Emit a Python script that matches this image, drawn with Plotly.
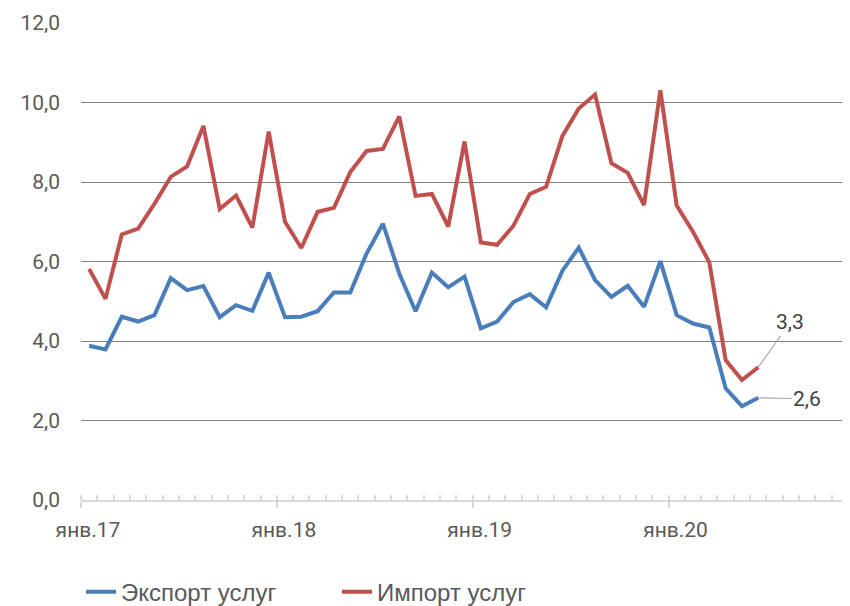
import plotly.graph_objects as go

# Monthly values, Jan 2017 .. Jun 2020
export_services = [3.88, 3.79, 4.61, 4.49, 4.65, 5.58, 5.28, 5.38, 4.60, 4.90, 4.76, 5.72,
                   4.60, 4.61, 4.75, 5.22, 5.22, 6.20, 6.95, 5.70, 4.75, 5.72, 5.35, 5.62,
                   4.32, 4.49, 4.98, 5.18, 4.85, 5.77, 6.35, 5.53, 5.11, 5.39, 4.86, 6.01,
                   4.65, 4.44, 4.34, 2.81, 2.36, 2.57]
import_services = [5.81, 5.06, 6.68, 6.83, 7.45, 8.13, 8.39, 9.41, 7.32, 7.66, 6.85, 9.27,
                   7.00, 6.34, 7.25, 7.35, 8.25, 8.78, 8.83, 9.65, 7.65, 7.70, 6.88, 9.02,
                   6.48, 6.42, 6.90, 7.70, 7.88, 9.16, 9.85, 10.20, 8.47, 8.23, 7.42, 10.31,
                   7.41, 6.75, 5.98, 3.52, 3.02, 3.34]
year_labels = ["янв.17", "янв.18", "янв.19", "янв.20"]
series_names = ["Экспорт услуг", "Импорт услуг"]
y_ticks = [0, 2, 4, 6, 8, 10, 12]

months = list(range(len(export_services)))
year_starts = [12 * i - 0.5 for i in range(len(year_labels))]

BLUE = "#4a7ebb"
RED = "#c0504d"
GRAY_TXT = "#595959"

fig = go.Figure()
fig.add_trace(go.Scatter(x=months, y=export_services, mode="lines", name=series_names[0],
                         line=dict(color=BLUE, width=4)))
fig.add_trace(go.Scatter(x=months, y=import_services, mode="lines", name=series_names[1],
                         line=dict(color=RED, width=4)))

def fmt(v):
    return f"{v:.1f}".replace(".", ",")

fig.add_annotation(x=months[-1], y=import_services[-1], xref="x", yref="y",
                   text=fmt(import_services[-1]), showarrow=True, arrowhead=0,
                   arrowwidth=1.2, arrowcolor="#a6a6a6", ax=32, ay=-45, standoff=0,
                   font=dict(family="Roboto", size=21, color="#404040"))
fig.add_annotation(x=months[-1], y=export_services[-1], xref="x", yref="y",
                   text=fmt(export_services[-1]), showarrow=True, arrowhead=0,
                   arrowwidth=1.2, arrowcolor="#a6a6a6", ax=49, ay=1, standoff=0,
                   font=dict(family="Roboto", size=21, color="#404040"))

# page body has an 8px margin, so the figure is offset by (8, 8) in the window
fig.update_layout(
    width=850, height=606,
    margin=dict(l=73, r=0, t=15, b=114, autoexpand=False),
    plot_bgcolor="white", paper_bgcolor="white",
    separators=", ",
    showlegend=True,
    legend=dict(orientation="h", x=0.0, xanchor="left", y=-0.193, yanchor="middle",
                font=dict(family="Liberation Sans", size=24, color=GRAY_TXT),
                entrywidth=211, entrywidthmode="pixels", bgcolor="rgba(0,0,0,0)"),
    xaxis=dict(range=[-0.5, -0.5 + 777 / 16.32], showgrid=False, zeroline=False,
               showline=True, linecolor="#d9d9d9", linewidth=2,
               tickmode="array", tickvals=year_starts, ticktext=year_labels,
               ticks="outside", ticklen=6, tickwidth=1.5, tickcolor="#d9d9d9",
               ticklabelshift=7, ticklabelstandoff=4, automargin=False,
               tickfont=dict(family="Roboto", size=21, color=GRAY_TXT),
               minor=dict(tickmode="linear", tick0=-0.5, dtick=1, ticks="inside",
                          ticklen=5, tickwidth=1.5, tickcolor="#d9d9d9", showgrid=False)),
    yaxis=dict(range=[0, 12], tickmode="array", tickvals=y_ticks, tickformat=".1f",
               showgrid=True, gridcolor="#808080", gridwidth=1.2, zeroline=False,
               showline=False, ticks="", ticklabelstandoff=20, automargin=False,
               tickfont=dict(family="Roboto", size=21, color=GRAY_TXT)),
)

fig.write_html("out.html")
